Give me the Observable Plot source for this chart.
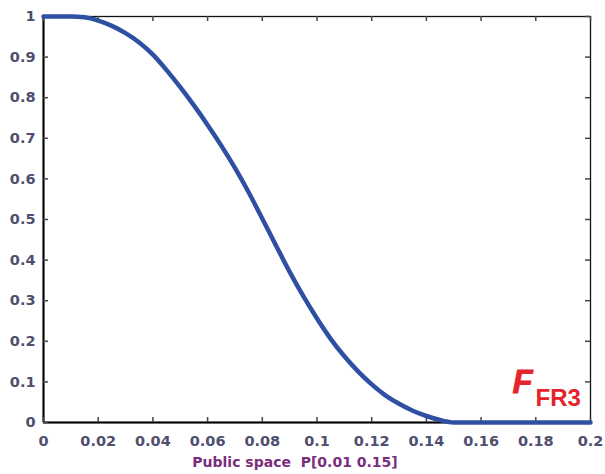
<!DOCTYPE html>
<html>
<head>
<meta charset="utf-8">
<script src="https://cdn.jsdelivr.net/npm/d3@7"></script>
<script src="https://cdn.jsdelivr.net/npm/@observablehq/plot@0.6"></script>
<style>
  html, body { margin: 0; padding: 0; background: #fff; }
  #chart { width: 605px; height: 474px; }
</style>
</head>
<body>
<div id="chart"></div>
<script>
const xValues = [0, 0.01, 0.015, 0.02, 0.025, 0.03, 0.035, 0.04, 0.045, 0.05, 0.055, 0.06, 0.065, 0.07, 0.075, 0.08, 0.085, 0.09, 0.095, 0.1, 0.105, 0.11, 0.115, 0.12, 0.125, 0.13, 0.135, 0.14, 0.145, 0.15, 0.2];
const yValues = [1, 1, 0.998, 0.99, 0.977, 0.959, 0.936, 0.906, 0.868, 0.826, 0.781, 0.733, 0.682, 0.627, 0.567, 0.502, 0.436, 0.371, 0.311, 0.256, 0.206, 0.163, 0.126, 0.094, 0.067, 0.046, 0.029, 0.016, 0.006, 0, 0];
const xTicks = [0, 0.02, 0.04, 0.06, 0.08, 0.1, 0.12, 0.14, 0.16, 0.18, 0.2];
const xTickLabels = ["0", "0.02", "0.04", "0.06", "0.08", "0.1", "0.12", "0.14", "0.16", "0.18", "0.2"];
const yTicks = [0, 0.1, 0.2, 0.3, 0.4, 0.5, 0.6, 0.7, 0.8, 0.9, 1];
const yTickLabels = ["0", "0.1", "0.2", "0.3", "0.4", "0.5", "0.6", "0.7", "0.8", "0.9", "1"];
const xLabel = "Public space  P[0.01 0.15]";
const seriesMain = "F";
const seriesSub = "FR3";

const data = xValues.map((x, i) => ({x, y: yValues[i]}));
const W = 605, H = 474, ML = 43, MR = 15, MT = 16, MB = 52;
const xDomain = [0, 0.2], yDomain = [0, 1];
const TL = 5; // inward tick length (px)
const innerW = W - ML - MR, innerH = H - MT - MB;
const tyLen = TL / innerH * (yDomain[1] - yDomain[0]);
const txLen = TL / innerW * (xDomain[1] - xDomain[0]);
const tickStyle = {stroke: "#444", strokeWidth: 1.5};

const chart = Plot.plot({
  width: W,
  height: H,
  marginLeft: ML,
  marginRight: MR,
  marginTop: MT,
  marginBottom: MB,
  x: {domain: xDomain},
  y: {domain: yDomain},
  style: {fontFamily: "DejaVu Sans", background: "#fff", overflow: "visible"},
  marks: [
    Plot.frame({stroke: "#111", strokeWidth: 1.3}),
    Plot.ruleX([xDomain[0]], {stroke: "#000", strokeWidth: 2}),
    Plot.ruleY([yDomain[0]], {stroke: "#000", strokeWidth: 2}),
    // inward ticks (box style)
    Plot.ruleX(xTicks, {x: d => d, y1: yDomain[0], y2: yDomain[0] + tyLen, ...tickStyle}),
    Plot.ruleX(xTicks, {x: d => d, y1: yDomain[1] - tyLen, y2: yDomain[1], ...tickStyle}),
    Plot.ruleY(yTicks, {y: d => d, x1: xDomain[0], x2: xDomain[0] + txLen, ...tickStyle}),
    Plot.ruleY(yTicks, {y: d => d, x1: xDomain[1] - txLen, x2: xDomain[1], ...tickStyle}),
    // tick labels
    Plot.axisX({anchor: "bottom", ticks: xTicks, tickSize: 0, tickPadding: 13,
      tickFormat: (d, i) => xTickLabels[i], label: null,
      fontSize: 14.5, fontWeight: "bold", fill: "#4f4f6f"}),
    Plot.axisY({anchor: "left", ticks: yTicks, tickSize: 0, tickPadding: 8,
      tickFormat: (d, i) => yTickLabels[i], label: null,
      fontSize: 14.5, fontWeight: "bold", fill: "#4f4f6f"}),
    Plot.text([xLabel], {frameAnchor: "bottom", text: d => d, dx: -22, dy: 40, lineAnchor: "middle",
      fontSize: 14, fontWeight: "bold", fill: "#7b2d7e"}),
    Plot.line(data, {x: "x", y: "y", stroke: "#2f4fa2", strokeWidth: 4.5, curve: "monotone-x", strokeLinejoin: "round"}),
    Plot.text([seriesMain], {frameAnchor: "bottom-right", text: d => d, textAnchor: "start", lineAnchor: "bottom",
      dx: -78, dy: -30, fontSize: 33, fontWeight: "900", fontStyle: "italic", fontFamily: "Liberation Sans", fill: "#e5232a",
      stroke: "#e5232a", strokeWidth: 0.8}),
    Plot.text([seriesSub], {frameAnchor: "bottom-right", text: d => d, textAnchor: "start", lineAnchor: "bottom",
      dx: -55, dy: -17, fontSize: 24, fontWeight: "bold", fontFamily: "Liberation Sans", fill: "#e5232a"})
  ]
});
document.getElementById("chart").appendChild(chart);
</script>
</body>
</html>
